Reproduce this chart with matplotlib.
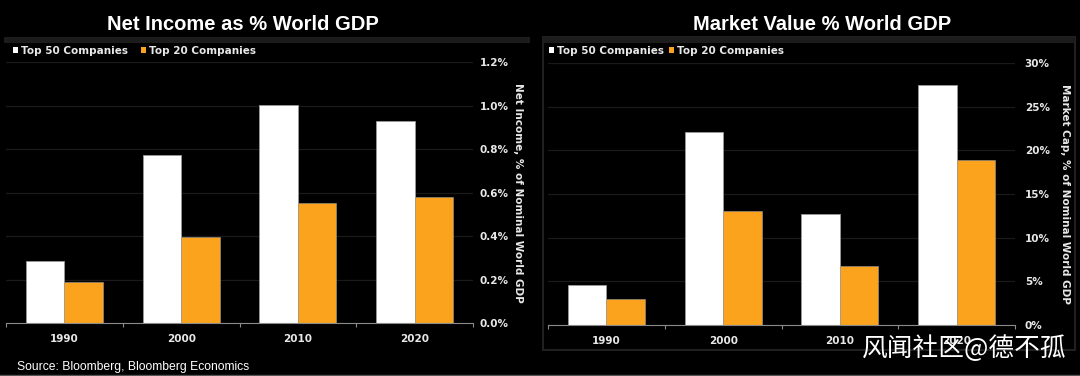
import matplotlib.pyplot as plt
from matplotlib.patches import Patch, Rectangle
from matplotlib.lines import Line2D

# dati
anni = ['1990', '2000', '2010', '2020']
reddito_top50 = [0.286, 0.776, 1.004, 0.929]
reddito_top20 = [0.19, 0.397, 0.553, 0.579]
valore_top50 = [4.6, 22.1, 12.7, 27.5]
valore_top20 = [2.95, 13.1, 6.7, 18.9]
etichette_serie = ['Top 50 Companies', 'Top 20 Companies']

W, H = 1080, 376
BIANCO = '#ffffff'
ARANCIO = '#fba31c'
GRIGIO_GRIGLIA = '#1a1a1a'
GRIGIO_ASSE = '#8a8a8a'
TESTO = '#e8e8e8'
FONT_ETI = 'DejaVu Sans'

fig = plt.figure(figsize=(W / 100, H / 100), dpi=100, facecolor='black')


def box(x0, y0, x1, y1):
    # coordinate in pixel (origine in alto a sinistra) -> frazioni della figura
    return [x0 / W, 1 - y1 / H, (x1 - x0) / W, (y1 - y0) / H]


# cornici dei pannelli
fig.patches.append(Rectangle((4 / W, 1 - 43 / H), 526 / W, 6 / H, transform=fig.transFigure,
                             facecolor='#1c1c1c', edgecolor='none'))
fig.patches.append(Rectangle((543 / W, 1 - 350 / H), 532 / W, 313 / H, transform=fig.transFigure,
                             facecolor='none', edgecolor='#202020', linewidth=1.5))
fig.patches.append(Rectangle((543 / W, 1 - 43 / H), 532 / W, 6 / H, transform=fig.transFigure,
                             facecolor='#1c1c1c', edgecolor='none'))
fig.lines.append(Line2D([0, 1], [1 - 375 / H, 1 - 375 / H], transform=fig.transFigure,
                        color='#555555', linewidth=1.0))


def pannello(pos, serie50, serie20, ymax, passo, fmt, titolo, tx, ylab, lx, leg_x, colspace, pad):
    ax = fig.add_axes(pos)
    ax.set_facecolor('black')
    x = list(range(len(anni)))
    larg = 0.33
    ax.bar([i - larg / 2 for i in x], serie50, width=larg, color=BIANCO,
           edgecolor='#9a9a9a', linewidth=0.6, zorder=3)
    ax.bar([i + larg / 2 for i in x], serie20, width=larg, color=ARANCIO,
           edgecolor='#9a9a9a', linewidth=0.4, zorder=3)
    ax.set_xlim(-0.5, len(anni) - 0.5)
    ax.set_ylim(0, ymax)

    yt = [passo * k for k in range(int(round(ymax / passo)) + 1)]
    ax.set_yticks(yt)
    ax.set_yticklabels([fmt.format(v) for v in yt])
    ax.yaxis.tick_right()
    ax.tick_params(axis='y', length=0, pad=pad, labelcolor=TESTO, labelsize=7.5)
    for t in ax.get_yticklabels():
        t.set_fontweight('bold')
        t.set_family(FONT_ETI)
    ax.grid(axis='y', color=GRIGIO_GRIGLIA, linewidth=0.9, zorder=0)

    ax.set_xticks(x)
    ax.set_xticklabels(anni, fontweight='bold', fontsize=7.5, color=TESTO, family=FONT_ETI)
    ax.set_xticks([i - 0.5 for i in range(len(anni) + 1)], minor=True)
    ax.tick_params(axis='x', which='major', length=0, pad=8)
    ax.tick_params(axis='x', which='minor', length=3, color=GRIGIO_ASSE, width=0.8, direction='out')

    for s in ['left', 'right', 'top']:
        ax.spines[s].set_visible(False)
    ax.spines['bottom'].set_color(GRIGIO_ASSE)
    ax.spines['bottom'].set_linewidth(0.8)
    ax.spines['bottom'].set_zorder(4)

    fig.text(tx / W, 1 - 24 / H, titolo, ha='center', va='center', color='white',
             fontsize=14.5, fontweight='bold', family='Liberation Sans')
    centro_y = (pos[1] + pos[1] + pos[3]) / 2
    fig.text(lx / W, centro_y, ylab, rotation=270, ha='center', va='center', color=TESTO,
             fontsize=7.5, fontweight='bold', family=FONT_ETI)

    maniglie = [Patch(facecolor=BIANCO, edgecolor='none'), Patch(facecolor=ARANCIO, edgecolor='none')]
    leg = fig.legend(maniglie, etichette_serie, loc='center left',
                     bbox_to_anchor=(leg_x / W, 1 - 50.5 / H), ncol=2, frameon=False,
                     handlelength=0.45, handleheight=0.45, handletextpad=0.35,
                     columnspacing=colspace, borderpad=0, borderaxespad=0,
                     prop={'family': FONT_ETI, 'weight': 'bold', 'size': 7.5})
    for t in leg.get_texts():
        t.set_color(TESTO)
    return ax


pannello(box(6, 62.3, 473, 323.3), reddito_top50, reddito_top20, 1.2, 0.2, '{:.1f}%',
         'Net Income as % World GDP', 243, 'Net Income, % of Nominal World GDP', 518,
         13, 1.2, 5)
pannello(box(548, 63.3, 1015, 324.7), valore_top50, valore_top20, 30, 5, '{:.0f}%',
         'Market Value % World GDP', 822, 'Market Cap, % of Nominal World GDP', 1065,
         549, 0.45, 7)

fig.text(17 / W, 1 - 367 / H, 'Source: Bloomberg, Bloomberg Economics', ha='left', va='center',
         color='white', fontsize=8.7, family='Liberation Sans')
fig.text(1067 / W, 1 - 349 / H, '风闻社区@德不孤', ha='right', va='center', color='white',
         fontsize=18.5, family=['Noto Sans CJK SC', 'DejaVu Sans'], fontweight='light')

fig.savefig('out.png', dpi=100, facecolor='black')
